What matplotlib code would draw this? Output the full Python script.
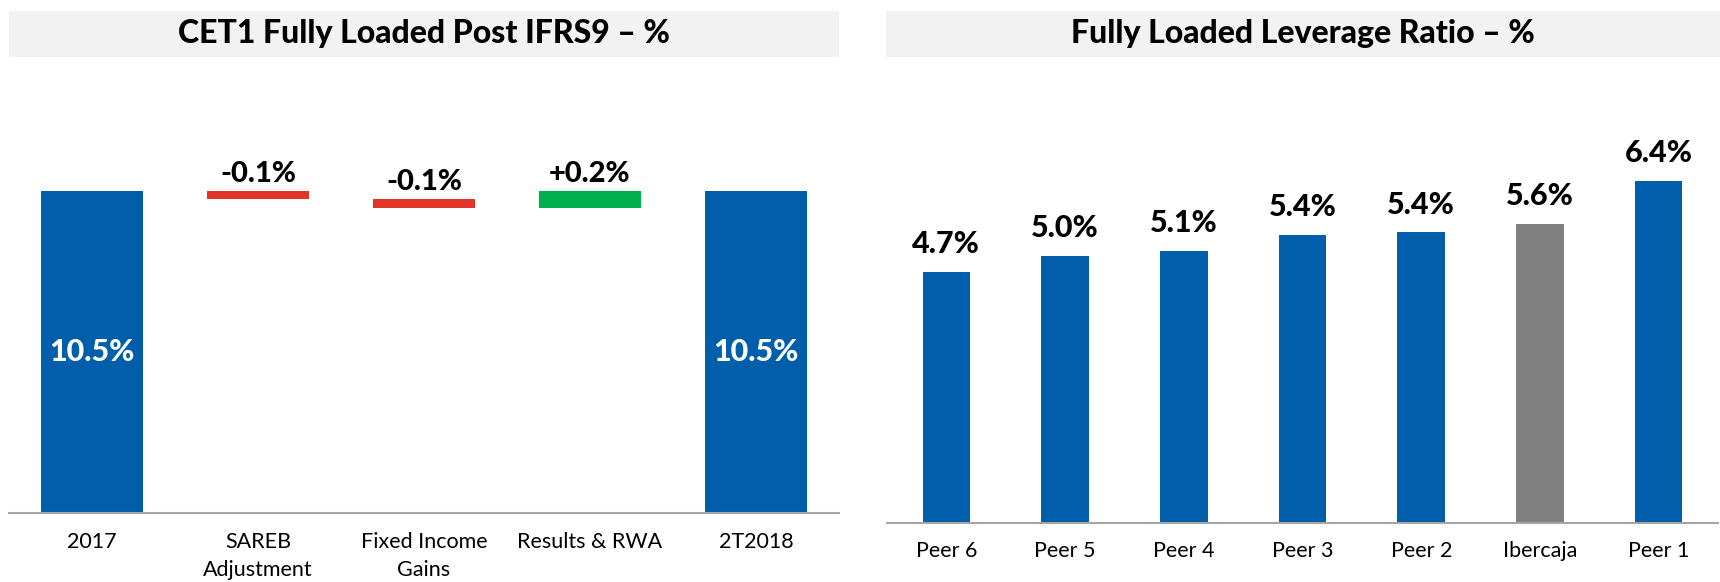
import numpy as np
import matplotlib.pyplot as plt

plt.rcParams['font.family'] = ['Lato', 'DejaVu Sans']

# CET1 waterfall data
cet1_labels = ['2017', 'SAREB\nAdjustment', 'Fixed Income\nGains', 'Results & RWA', '2T2018']
cet1_start = 10.5
cet1_steps = [-0.1, -0.1, 0.2]
cet1_end = 10.5

# Leverage ratio data
peer_labels = ['Peer 6', 'Peer 5', 'Peer 4', 'Peer 3', 'Peer 2', 'Ibercaja', 'Peer 1']
peer_values = [4.7, 5.0, 5.1, 5.4, 5.44, 5.6, 6.4]
peer_highlight = 'Ibercaja'

BLUE = '#005EAA'
RED = '#E3342A'
GREEN = '#00AF50'
GREY = '#808080'
BOX = '#F2F2F2'
AXIS = '#A6A6A6'

W, H = 1720, 582
fig = plt.figure(figsize=(W / 100, H / 100), dpi=100)


def px_axes(x0, y0, x1, y1):
    # pixel box (top-left origin) -> figure axes
    return fig.add_axes([x0 / W, 1 - y1 / H, (x1 - x0) / W, (y1 - y0) / H])


def title_box(x0, x1, text):
    tax = px_axes(x0, 11, x1, 57)
    tax.set_facecolor(BOX)
    tax.set_xticks([])
    tax.set_yticks([])
    for s in tax.spines.values():
        s.set_visible(False)
    tax.text(0.5, 0.5, text, ha='center', va='center', fontsize=23,
             fontweight='black', transform=tax.transAxes)


title_box(9, 839, 'CET1 Fully Loaded Post IFRS9 \u2013 %')
title_box(886, 1720, 'Fully Loaded Leverage Ratio \u2013 %')

# ---- left: waterfall (small steps stretched on the scale above 10.2) ----
Y0, K = 10.2, 3.0


def fwd(y):
    y = np.asarray(y, dtype=float)
    return np.where(y <= Y0, y, Y0 + K * (y - Y0))


def inv(v):
    v = np.asarray(v, dtype=float)
    return np.where(v <= Y0, v, Y0 + (v - Y0) / K)


ax1 = px_axes(9, 60, 839, 513)
ax1.set_yscale('function', functions=(fwd, inv))
x1 = np.arange(len(cet1_labels))
bw = 0.62

ax1.bar(x1[0], cet1_start, width=bw, color=BLUE)
ax1.bar(x1[-1], cet1_end, width=bw, color=BLUE)
for xv, val in [(x1[0], cet1_start), (x1[-1], cet1_end)]:
    mid = float(inv(fwd(val) / 2))
    ax1.text(xv, mid, f'{val:.1f}%', ha='center', va='center', color='white',
             fontsize=22, fontweight='black')

level = cet1_start
for i, step in enumerate(cet1_steps):
    new = level + step
    lo, hi = min(level, new), max(level, new)
    ax1.bar(x1[i + 1], hi - lo, bottom=lo, width=bw, color=GREEN if step > 0 else RED)
    ax1.annotate(f'{step:+.1f}%', (x1[i + 1], hi), xytext=(0, 3),
                 textcoords='offset points', ha='center', va='bottom',
                 fontsize=21, fontweight='black')
    level = new

ax1.set_xlim(-0.5, len(cet1_labels) - 0.5)
ax1.set_ylim(0, 12.0)
ax1.set_xticks(x1)
ax1.set_xticklabels(cet1_labels, fontsize=15.5, linespacing=1.5)
ax1.tick_params(axis='x', length=0, pad=14)
ax1.set_yticks([])
for s in ['top', 'left', 'right']:
    ax1.spines[s].set_visible(False)
ax1.spines['bottom'].set_color(AXIS)
ax1.spines['bottom'].set_linewidth(1.5)

# ---- right: leverage ratio bars ----
ax2 = px_axes(887, 60, 1718, 523)
x2 = np.arange(len(peer_labels))
colors = [GREY if lab == peer_highlight else BLUE for lab in peer_labels]
bars = ax2.bar(x2, peer_values, width=0.40, color=colors)
for b, val in zip(bars, peer_values):
    ax2.annotate(f'{val:.1f}%', (b.get_x() + b.get_width() / 2, val), xytext=(0, 10),
                 textcoords='offset points', ha='center', va='bottom',
                 fontsize=22, fontweight='black')

ax2.set_xlim(-0.5, len(peer_labels) - 0.5)
ax2.set_ylim(0, 8.67)
ax2.set_xticks(x2)
ax2.set_xticklabels(peer_labels, fontsize=15.5)
ax2.tick_params(axis='x', length=0, pad=13)
ax2.set_yticks([])
for s in ['top', 'left', 'right']:
    ax2.spines[s].set_visible(False)
ax2.spines['bottom'].set_color(AXIS)
ax2.spines['bottom'].set_linewidth(1.5)

fig.savefig('out.png', dpi=100)
